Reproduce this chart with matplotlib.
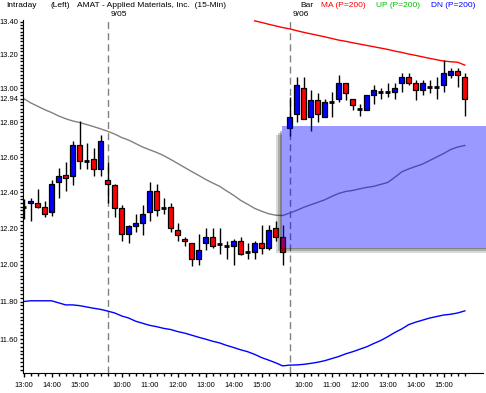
import matplotlib
matplotlib.use("Agg")
import matplotlib.pyplot as plt
from matplotlib.patches import Rectangle
from matplotlib.transforms import IdentityTransform, blended_transform_factory
import numpy as np

plt.rcParams['font.family'] = ['Liberation Sans', 'DejaVu Sans']

# 15-min bars: 9/04 13:00-15:45, 9/05 and 9/06 full sessions
opens = [12.32, 12.34, 12.34, 12.32, 12.29, 12.46, 12.50, 12.49, 12.67, 12.58, 12.59, 12.53,
         12.47, 12.44, 12.31, 12.17, 12.21, 12.23, 12.29, 12.41, 12.31, 12.32, 12.19, 12.14,
         12.12, 12.03, 12.12, 12.15, 12.11, 12.10, 12.10, 12.13, 12.07, 12.07, 12.12, 12.09,
         12.20, 12.15,
         12.77, 12.85, 13.00, 12.83, 12.93, 12.83, 12.92, 12.94, 13.03, 12.94, 12.88, 12.87,
         12.96, 12.98, 12.98, 12.98, 13.03, 13.07, 13.03, 12.99, 13.01, 13.01, 13.02, 13.08,
         13.10, 13.07]
highs = [12.36, 12.37, 12.42, 12.35, 12.47, 12.54, 12.57, 12.69, 12.81, 12.68, 12.65, 12.73,
         12.57, 12.45, 12.33, 12.22, 12.28, 12.33, 12.46, 12.45, 12.37, 12.34, 12.23, 12.15,
         12.12, 12.17, 12.20, 12.20, 12.20, 12.13, 12.14, 12.15, 12.12, 12.13, 12.22, 12.22,
         12.24, 12.22,
         12.95, 13.07, 13.07, 12.99, 12.97, 12.94, 12.98, 13.08, 13.03, 12.94, 12.91, 12.96,
         13.02, 13.00, 13.03, 13.03, 13.09, 13.09, 13.05, 13.05, 13.05, 13.07, 13.17, 13.12,
         13.12, 13.09]
lows = [12.25, 12.24, 12.31, 12.26, 12.27, 12.37, 12.41, 12.44, 12.53, 12.53, 12.49, 12.49,
        12.34, 12.26, 12.13, 12.12, 12.18, 12.16, 12.24, 12.27, 12.28, 12.18, 12.13, 12.10,
        11.99, 12.00, 12.08, 12.09, 12.06, 12.03, 12.00, 12.05, 12.03, 12.03, 12.06, 12.08,
        12.13, 12.00,
        12.72, 12.80, 12.82, 12.75, 12.80, 12.83, 12.83, 12.92, 12.93, 12.87, 12.84, 12.87,
        12.91, 12.94, 12.95, 12.94, 12.98, 13.02, 12.93, 12.96, 12.97, 12.94, 12.98, 13.06,
        13.01, 12.84]
closes = [12.32, 12.35, 12.32, 12.28, 12.45, 12.49, 12.48, 12.67, 12.58, 12.58, 12.53, 12.69,
          12.45, 12.31, 12.17, 12.21, 12.23, 12.28, 12.41, 12.30, 12.31, 12.20, 12.16, 12.13,
          12.03, 12.08, 12.15, 12.10, 12.11, 12.10, 12.13, 12.06, 12.07, 12.12, 12.09, 12.19,
          12.15, 12.07,
          12.83, 13.02, 12.82, 12.93, 12.85, 12.92, 12.92, 13.03, 12.97, 12.90, 12.88, 12.96,
          12.99, 12.98, 12.98, 13.00, 13.07, 13.03, 12.99, 13.03, 13.01, 13.01, 13.09, 13.10,
          13.08, 12.94]

# gray average line (one value per bar)
gray_line = [12.94, 12.915, 12.895, 12.875, 12.858, 12.838, 12.822, 12.809, 12.800, 12.788,
             12.776, 12.763, 12.749, 12.733, 12.713, 12.698, 12.678, 12.658, 12.642, 12.627,
             12.609, 12.587, 12.564, 12.541, 12.518, 12.496, 12.473, 12.453, 12.434, 12.408,
             12.383, 12.355, 12.333, 12.310, 12.294, 12.280, 12.272, 12.270,
             12.284, 12.299, 12.316, 12.330, 12.344, 12.358, 12.377, 12.394, 12.405, 12.411,
             12.420, 12.428, 12.434, 12.445, 12.456, 12.485, 12.516, 12.533, 12.547, 12.561,
             12.581, 12.601, 12.621, 12.644, 12.658, 12.667]

# MA (P=200), visible from bar 33 on
ma_start = 33
ma_line = [13.405, 13.395, 13.384, 13.374, 13.364, 13.356, 13.345, 13.335, 13.326, 13.317,
           13.308, 13.298, 13.288, 13.281, 13.272, 13.264, 13.256, 13.248, 13.240, 13.232,
           13.222, 13.214, 13.204, 13.196, 13.187, 13.178, 13.170, 13.162, 13.158, 13.155,
           13.138]

# DN (P=200)
dn_line = [11.800, 11.804, 11.804, 11.804, 11.804, 11.793, 11.782, 11.782, 11.778, 11.771,
           11.764, 11.758, 11.749, 11.739, 11.723, 11.712, 11.695, 11.684, 11.673, 11.666,
           11.657, 11.651, 11.640, 11.632, 11.621, 11.610, 11.600, 11.589, 11.580, 11.567,
           11.556, 11.544, 11.534, 11.520, 11.503, 11.490, 11.476, 11.460,
           11.464, 11.465, 11.468, 11.473, 11.479, 11.487, 11.498, 11.509, 11.523, 11.534,
           11.547, 11.560, 11.577, 11.593, 11.613, 11.635, 11.654, 11.677, 11.690, 11.701,
           11.712, 11.720, 11.728, 11.732, 11.739, 11.750]

day_starts = [12, 38]
day_names = ["9/05", "9/06"]
tick_bars = [0, 4, 8, 14, 18, 22, 26, 30, 34, 40, 44, 48, 52, 56, 60]
tick_names = ["13:00", "14:00", "15:00", "10:00", "11:00", "12:00", "13:00", "14:00",
              "15:00", "10:00", "11:00", "12:00", "13:00", "14:00", "15:00"]
price_ticks = [11.60, 11.80, 12.00, 12.20, 12.40, 12.60, 12.80, 13.00, 13.20, 13.40]

# highlighted zone
zone_start = 36.95
zone_low = 12.09
zone_high = 12.78

W, H = 486, 393
fig = plt.figure(figsize=(W / 100, H / 100), dpi=100)
ax = fig.add_axes([22.5 / W, 20 / H, (483 - 22.5) / W, 353 / H])
ax.set_yscale('log')
ax.set_xlim(-0.15, 65.6)
ax.set_ylim(11.423, 13.41)

x = np.arange(len(closes))
o = np.array(opens)
c = np.array(closes)
ax.vlines(x, lows, highs, color='black', lw=1, zorder=2)
up = c > o
dn = c < o
eq = c == o
ax.bar(x[up], (c - o)[up], bottom=o[up], width=0.72, color='#0000ff',
       edgecolor='black', lw=0.9, zorder=3)
ax.bar(x[dn], (o - c)[dn], bottom=c[dn], width=0.72, color='#ff0000',
       edgecolor='black', lw=0.9, zorder=3)
ax.hlines(c[eq], x[eq] - 0.36, x[eq] + 0.36, color='black', lw=2, zorder=3)

ax.plot(x, gray_line, color='#808080', lw=1, zorder=1)
ax.plot(np.arange(ma_start, ma_start + len(ma_line)), ma_line, color='#ff0000', lw=1, zorder=1)
ax.plot(x, dn_line, color='#0000ff', lw=1.0, zorder=1)

for d in day_starts:
    ax.axvline(d, color='#808080', lw=1, ls=(0, (5, 3)), zorder=0)

# zone box with shadow
ax.add_patch(Rectangle((zone_start, zone_low), 80, zone_high - zone_low,
                       facecolor='#0000ff', alpha=0.4, lw=0, zorder=5, clip_on=False))
px0, py_lo = ax.transData.transform((zone_start, zone_low))
_, py_hi = ax.transData.transform((zone_start, zone_high))
for k, a in enumerate([0.15, 0.2, 0.25]):
    w = 6 - 2 * k
    fig.patches.append(Rectangle((px0 - w, py_lo - w + 1), w, py_hi - py_lo - 4,
                                 transform=IdentityTransform(), facecolor='black',
                                 alpha=a, lw=0))
    fig.patches.append(Rectangle((px0, py_lo - w + 1), W - px0, w - 1,
                                 transform=IdentityTransform(), facecolor='black',
                                 alpha=a, lw=0))

# axes styling
for s in ['top', 'right']:
    ax.spines[s].set_visible(False)
ax.set_xticks(tick_bars)
ax.set_xticklabels(tick_names)
ax.set_xticks(x, minor=True)
yt = price_ticks + [gray_line[0]]
ax.set_yticks(yt)
ax.set_yticklabels([f"{v:.2f}" for v in yt])
ax.set_yticks(np.arange(11.44, 13.41, 0.02), minor=True)
ax.yaxis.set_minor_formatter(plt.NullFormatter())
ax.tick_params(axis='both', which='major', length=2.5, width=1, labelsize=5.4, pad=0.5)
ax.tick_params(axis='both', which='minor', length=2, width=1)
ax.tick_params(axis='x', which='major', length=3, pad=3.5)

# header
fs = 6.0
fig.text(6 / W, 1 - 5.5 / H, "Intraday", fontsize=fs, va='center')
fig.text(50 / W, 1 - 5.5 / H, "(Left)", fontsize=fs, va='center')
fig.text(77 / W, 1 - 5.5 / H, "AMAT - Applied Materials, Inc.  (15-Min)", fontsize=fs, va='center')
fig.text(300 / W, 1 - 5.5 / H, "Bar", fontsize=fs, va='center')
fig.text(321 / W, 1 - 5.5 / H, "MA (P=200)", fontsize=fs, va='center', color='#ff0000')
fig.text(376 / W, 1 - 5.5 / H, "UP (P=200)", fontsize=fs, va='center', color='#00c000')
fig.text(431 / W, 1 - 5.5 / H, "DN (P=200)", fontsize=fs, va='center', color='#0000ff')
tr = blended_transform_factory(ax.transData, fig.transFigure)
for d, name in zip(day_starts, day_names):
    ax.text(d + 0.4, 1 - 14.5 / H, name, transform=tr, fontsize=fs, va='center')

fig.savefig("out.png", dpi=100)
